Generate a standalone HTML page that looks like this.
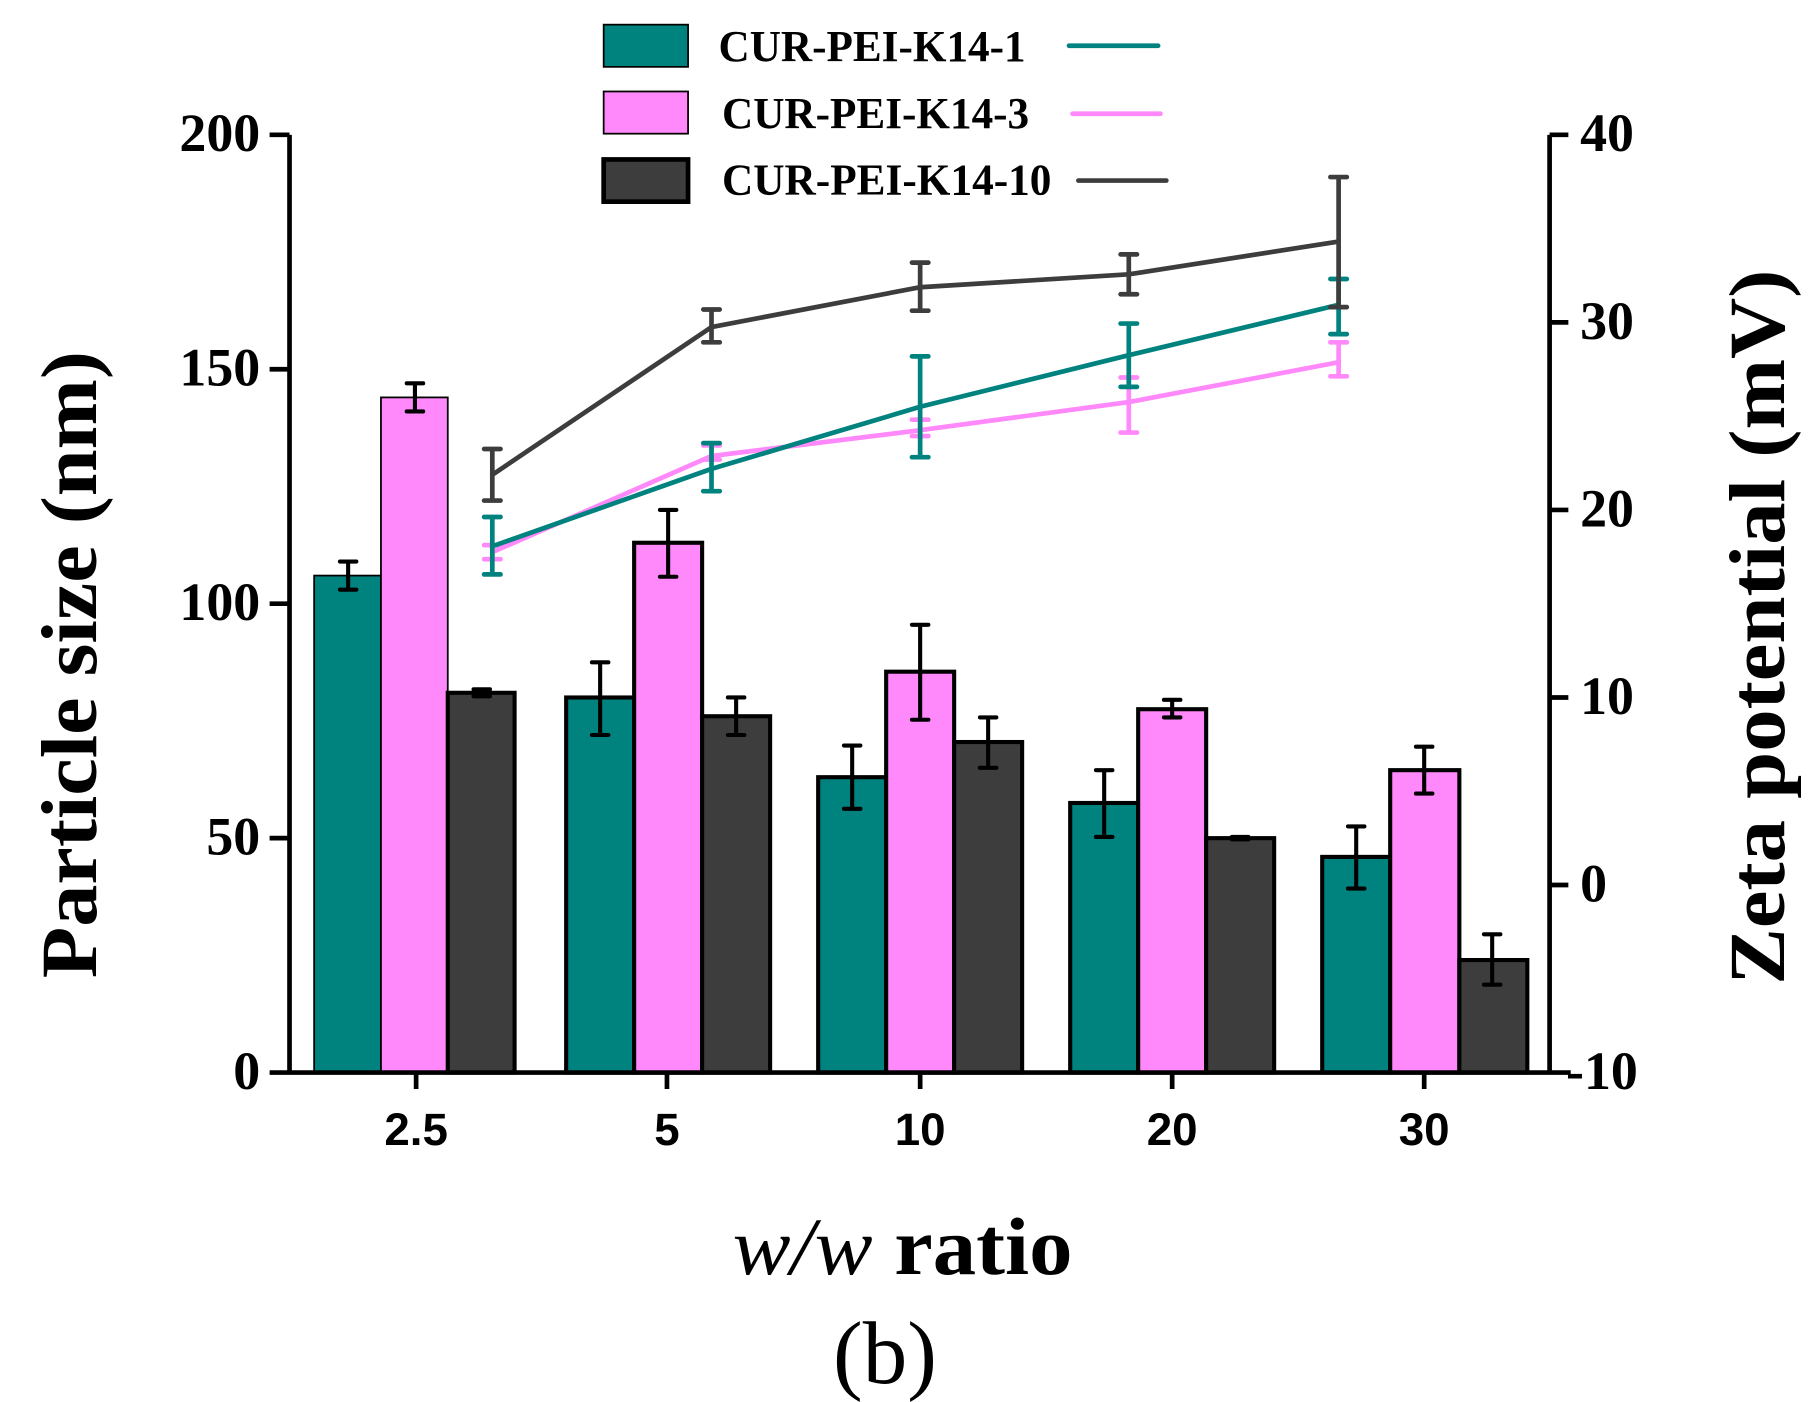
<!DOCTYPE html>
<html><head><meta charset="utf-8"><style>
html,body{margin:0;padding:0;background:#fff;}
svg{display:block;}
.t{font-family:"Liberation Serif",serif;font-weight:bold;}
.s{font-family:"Liberation Sans",sans-serif;font-weight:bold;}
</style></head><body>
<svg width="1811" height="1402" viewBox="0 0 1545 1196" xmlns="http://www.w3.org/2000/svg">
<rect width="1545" height="1196" fill="#fff"/>
<g stroke="#000" stroke-width="3.5">
<rect x="268" y="491" width="57" height="424" fill="#00827f" stroke-width="1.5"/>
<rect x="325" y="339" width="57" height="576" fill="#ff88fa" stroke-width="1.5"/>
<rect x="382" y="591" width="57" height="324" fill="#3d3d3d"/>
<rect x="483" y="595" width="58" height="320" fill="#00827f"/>
<rect x="541" y="463" width="58" height="452" fill="#ff88fa"/>
<rect x="599" y="611" width="58" height="304" fill="#3d3d3d"/>
<rect x="698" y="663" width="58" height="252" fill="#00827f"/>
<rect x="756" y="573" width="58" height="342" fill="#ff88fa"/>
<rect x="814" y="633" width="58" height="282" fill="#3d3d3d"/>
<rect x="913" y="685" width="58" height="230" fill="#00827f"/>
<rect x="971" y="605" width="58" height="310" fill="#ff88fa"/>
<rect x="1029" y="715" width="58" height="200" fill="#3d3d3d"/>
<rect x="1128" y="731" width="58" height="184" fill="#00827f"/>
<rect x="1186" y="657" width="59" height="258" fill="#ff88fa"/>
<rect x="1245" y="819" width="58" height="96" fill="#3d3d3d"/>
</g>
<g stroke="#000" stroke-width="3.5" stroke-linecap="round" fill="none">
<path d="M297 479V503M290 479H304M290 503H304"/>
<path d="M354 327V351M347 327H361M347 351H361"/>
<path d="M411 588V594M404 588H418M404 594H418"/>
<path d="M512 565V627M505 565H519M505 627H519"/>
<path d="M570 435V492M563 435H577M563 492H577"/>
<path d="M628 595V627M621 595H635M621 627H635"/>
<path d="M727 636V690M720 636H734M720 690H734"/>
<path d="M785 533V614M778 533H792M778 614H792"/>
<path d="M843 612V655M836 612H850M836 655H850"/>
<path d="M942 657V714M935 657H949M935 714H949"/>
<path d="M1000 597V612M993 597H1007M993 612H1007"/>
<path d="M1058 714V716M1051 714H1065M1051 716H1065"/>
<path d="M1157 705V758M1150 705H1164M1150 758H1164"/>
<path d="M1215 637V677M1208 637H1222M1208 677H1222"/>
<path d="M1273 797V840M1266 797H1280M1266 840H1280"/>
</g>
<g fill="none" stroke-width="4" stroke-linecap="round">
<g stroke="#ff88fa">
<polyline points="420,471 607,389 785,367 963,343 1142,309"/>
<path d="M420 465V477M413 465H427M413 477H427"/>
<path d="M607 380V392M600 380H614M600 392H614"/>
<path d="M785 358V372M778 358H792M778 372H792"/>
<path d="M963 322V369M956 322H970M956 369H970"/>
<path d="M1142 292V321M1135 292H1149M1135 321H1149"/>
</g>
<g stroke="#00827f">
<polyline points="420,466 607,400 785,347 963,303 1142,260"/>
<path d="M420 441V490M413 441H427M413 490H427"/>
<path d="M607 378V419M600 378H614M600 419H614"/>
<path d="M785 304V390M778 304H792M778 390H792"/>
<path d="M963 276V330M956 276H970M956 330H970"/>
<path d="M1142 238V285M1135 238H1149M1135 285H1149"/>
</g>
<g stroke="#3d3d3d">
<polyline points="420,405 607,279 785,245 963,234 1142,206"/>
<path d="M420 383V427M413 383H427M413 427H427"/>
<path d="M607 264V292M600 264H614M600 292H614"/>
<path d="M785 224V265M778 224H792M778 265H792"/>
<path d="M963 217V251M956 217H970M956 251H970"/>
<path d="M1142 151V262M1135 151H1149M1135 262H1149"/>
</g>
</g>
<g stroke="#000" stroke-width="4" fill="none">
<path d="M247 115V917M1322 115V917M230 915H1340"/>
<path d="M230 115H247M230 315H247M230 515H247M230 715H247"/>
<path d="M1322 115H1338M1322 275H1338M1322 435H1338M1322 595H1338M1322 755H1338"/>
<path d="M355 915V929M569 915V929M785 915V929M1000 915V929M1215 915V929"/>
</g>
<g class="t" font-size="46" text-anchor="end">
<text x="222" y="129">200</text><text x="222" y="329">150</text><text x="222" y="529">100</text><text x="222" y="729">50</text><text x="222" y="929">0</text>
</g>
<g class="t" font-size="46">
<text x="1348" y="129">40</text><text x="1348" y="289">30</text><text x="1348" y="449">20</text><text x="1348" y="609">10</text><text x="1348" y="769">0</text><text x="1336" y="929">-10</text>
</g>
<g class="s" font-size="39" text-anchor="middle">
<text x="355" y="977">2.5</text><text x="569" y="977">5</text><text x="785" y="977">10</text><text x="1000" y="977">20</text><text x="1215" y="977">30</text>
</g>
<text class="t" font-size="68" text-anchor="middle" textLength="535" lengthAdjust="spacingAndGlyphs" transform="translate(82,567) rotate(-90)">Particle size (nm)</text>
<text class="t" font-size="68" text-anchor="middle" textLength="610" lengthAdjust="spacingAndGlyphs" transform="translate(1522,535) rotate(-90)">Zeta potential (mV)</text>
<text class="t" font-size="70" text-anchor="middle" x="770" y="1087" textLength="290" lengthAdjust="spacingAndGlyphs"><tspan font-style="italic" font-weight="normal">w/w</tspan> ratio</text>
<text font-family="Liberation Serif, serif" font-size="76" text-anchor="middle" x="755" y="1180">(b)</text>
<g stroke="#000" stroke-width="3">
<rect x="515" y="21" width="72" height="36" fill="#00827f" stroke-width="1.5"/>
<rect x="515" y="78" width="72" height="36" fill="#ff88fa" stroke-width="1.5"/>
<rect x="515" y="136" width="72" height="36" fill="#3d3d3d" stroke-width="4"/>
</g>
<g class="t" font-size="38">
<text x="613" y="52" textLength="262" lengthAdjust="spacingAndGlyphs">CUR-PEI-K14-1</text>
<text x="616" y="109" textLength="262" lengthAdjust="spacingAndGlyphs">CUR-PEI-K14-3</text>
<text x="616" y="166" textLength="281" lengthAdjust="spacingAndGlyphs">CUR-PEI-K14-10</text>
</g>
<g stroke-width="4" stroke-linecap="round">
<path d="M912 39H988" stroke="#00827f"/>
<path d="M915 97H990" stroke="#ff88fa"/>
<path d="M920 154H995" stroke="#3d3d3d"/>
</g>
</svg>
</body></html>
